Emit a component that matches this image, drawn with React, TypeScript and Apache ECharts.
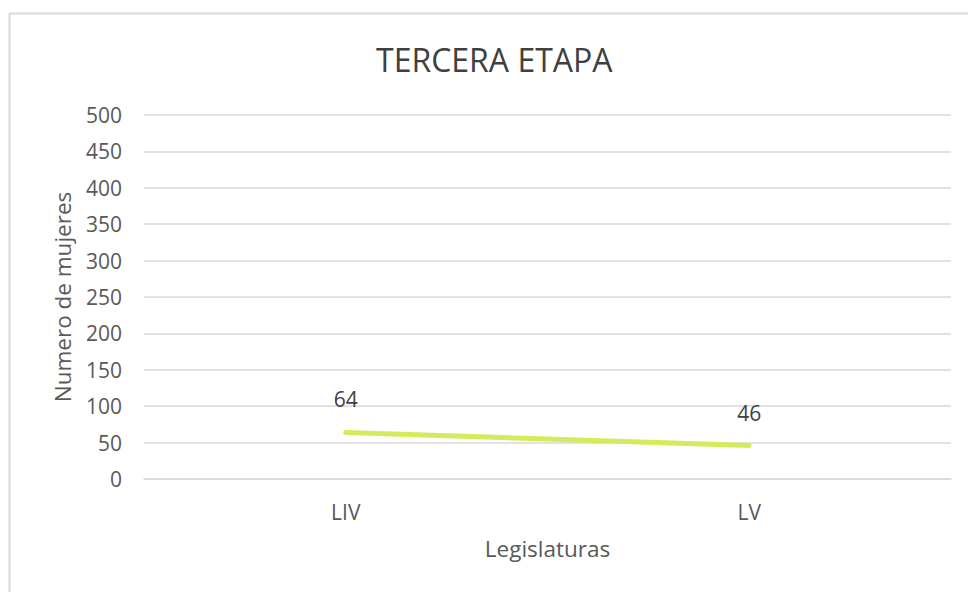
import React, { useEffect, useRef } from "react";
import * as echarts from "echarts";

const categories = ["LIV", "LV"];
const mujeres = [64, 46];
const title = "TERCERA ETAPA";
const yAxisName = "Numero de mujeres";
const xAxisName = "Legislaturas";

export default function App() {
  const ref = useRef<HTMLDivElement>(null);
  useEffect(() => {
    if (!ref.current) return;
    const chart = echarts.init(ref.current, null, { renderer: "svg" });
    const font = "'Open Sans', 'Noto Sans', sans-serif";
    chart.setOption({
      animation: false,
      backgroundColor: "#ffffff",
      textStyle: { fontFamily: font },
      title: {
        text: title,
        left: 371,
        top: 38,
        textStyle: { fontFamily: font, fontSize: 32, fontWeight: "normal", color: "#404040" },
      },
      graphic: [
        {
          type: "rect",
          shape: { x: 9.5, y: 13.5, width: 970, height: 600 },
          style: { fill: "none", stroke: "#d9d9d9", lineWidth: 2 },
          silent: true,
        },
      ],
      grid: { left: 144, right: 17, top: 115, bottom: 113 },
      xAxis: {
        type: "category",
        data: categories,
        boundaryGap: true,
        name: xAxisName,
        nameLocation: "middle",
        nameGap: 58,
        nameTextStyle: { fontFamily: font, fontSize: 22.5, color: "#595959" },
        axisLine: { lineStyle: { color: "#d9d9d9", width: 1.5 } },
        axisTick: { show: false },
        axisLabel: { fontFamily: font, fontSize: 21, color: "#595959", margin: 22 },
      },
      yAxis: {
        type: "value",
        min: 0,
        max: 500,
        interval: 50,
        name: yAxisName,
        nameLocation: "middle",
        nameGap: 70,
        nameTextStyle: { fontFamily: font, fontSize: 22.5, color: "#595959" },
        axisLine: { show: false },
        axisTick: { show: false },
        axisLabel: { fontFamily: font, fontSize: 21, color: "#595959", margin: 22 },
        splitLine: { lineStyle: { color: "#d9d9d9", width: 1.5 } },
      },
      series: [
        {
          type: "line",
          data: mujeres,
          symbol: "circle",
          symbolSize: 1,
          showSymbol: true,
          itemStyle: { color: "#d2ec5c", opacity: 0 },
          lineStyle: { color: "#d2ec5c", width: 5, cap: "round", opacity: 1 },
          label: {
            show: true,
            position: "top",
            distance: 22,
            fontFamily: font,
            fontSize: 21,
            color: "#404040",
            opacity: 1,
          },
        },
      ],
    });
    return () => chart.dispose();
  }, []);
  return (
    <div
      ref={ref}
      style={{ position: "absolute", left: 0, top: 0, width: 968, height: 592 }}
    />
  );
}
